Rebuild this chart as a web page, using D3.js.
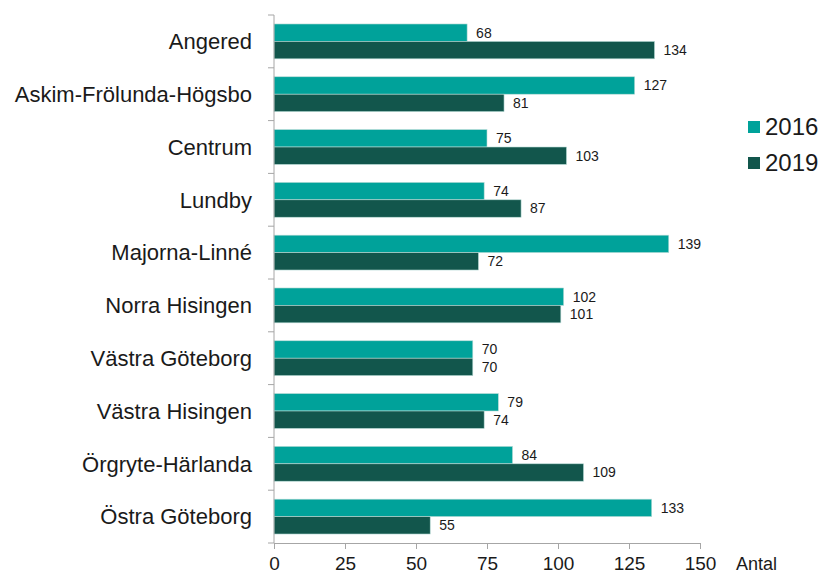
<!DOCTYPE html>
<html>
    <script src="https://d3js.org/d3.v7.min.js"></script>
    <style>
        body {margin: 0; background: #fff;}
        text {font-family: "Liberation Sans", Arial, sans-serif; fill: #1a1a1a;}
    </style>
    <body>
        <div id="chart_div"></div>
        <script>
            var districts = ["Angered", "Askim-Frölunda-Högsbo", "Centrum", "Lundby", "Majorna-Linné",
                "Norra Hisingen", "Västra Göteborg", "Västra Hisingen", "Örgryte-Härlanda", "Östra Göteborg"];
            var years = ["2016", "2019"];
            var values2016 = [68, 127, 75, 74, 139, 102, 70, 79, 84, 133];
            var values2019 = [134, 81, 103, 87, 72, 101, 70, 74, 109, 55];
            var xTicks = [0, 25, 50, 75, 100, 125, 150];
            var axisTitle = "Antal";

            var colors = {"2016": "#00a29a", "2019": "#12564c"};

            var margin = {top: 15, right: 124, bottom: 31, left: 274};
            var width = 824 - margin.left - margin.right;
            var height = 574 - margin.top - margin.bottom;

            var rows = districts.map(function(d, i) {
                return {district: d, "2016": values2016[i], "2019": values2019[i]};
            });

            var svg = d3.select("#chart_div").append("svg")
                .attr("width", 824)
                .attr("height", 574)
                .append("g")
                .attr("transform", "translate(" + margin.left + "," + margin.top + ")");

            var x = d3.scaleLinear().domain([0, 150]).range([0, width]);
            var y0 = d3.scaleBand().domain(districts).range([0, height]).paddingInner(0.34).paddingOuter(0.17);
            var y1 = d3.scaleBand().domain(years).range([0, y0.bandwidth()]);

            // bars
            var groups = svg.selectAll(".grp")
                .data(rows)
                .enter().append("g")
                .attr("transform", function(d) { return "translate(0," + y0(d.district) + ")"; });

            groups.selectAll("rect")
                .data(function(d) { return years.map(function(k) { return {year: k, value: d[k]}; }); })
                .enter().append("rect")
                .attr("x", 0)
                .attr("y", function(d) { return y1(d.year); })
                .attr("width", function(d) { return x(d.value); })
                .attr("height", y1.bandwidth())
                .attr("fill", function(d) { return colors[d.year]; })
                .attr("stroke", "#b9dcd8")
                .attr("stroke-width", 0.6);

            groups.selectAll(".val")
                .data(function(d) { return years.map(function(k) { return {year: k, value: d[k]}; }); })
                .enter().append("text")
                .attr("x", function(d) { return x(d.value) + 9; })
                .attr("y", function(d) { return y1(d.year) + y1.bandwidth() / 2; })
                .attr("dy", "0.35em")
                .attr("font-size", 14)
                .text(function(d) { return d.value; });

            // x axis
            var xAxis = svg.append("g")
                .attr("transform", "translate(0," + height + ")")
                .call(d3.axisBottom(x).tickValues(xTicks).tickSize(6).tickPadding(8));
            xAxis.selectAll("text").attr("font-size", 19).attr("font-family", null);
            xAxis.selectAll("path, line").attr("stroke", "#a6a6a6");

            svg.append("text")
                .attr("x", width + 36)
                .attr("y", height + 27)
                .attr("font-size", 18)
                .text(axisTitle);

            // y axis (category separators)
            var bandStep = y0.step();
            svg.append("line")
                .attr("x1", 0).attr("x2", 0)
                .attr("y1", 0).attr("y2", height)
                .attr("stroke", "#a6a6a6");
            svg.selectAll(".ytick")
                .data(d3.range(districts.length + 1))
                .enter().append("line")
                .attr("x1", -6).attr("x2", 0)
                .attr("y1", function(i) { return i * bandStep; })
                .attr("y2", function(i) { return i * bandStep; })
                .attr("stroke", "#a6a6a6");

            svg.selectAll(".ylab")
                .data(districts)
                .enter().append("text")
                .attr("x", -22)
                .attr("y", function(d) { return y0(d) + y0.bandwidth() / 2; })
                .attr("dy", "0.35em")
                .attr("text-anchor", "end")
                .attr("font-size", 22)
                .text(function(d) { return d; });

            // legend
            var legend = svg.append("g")
                .attr("transform", "translate(" + (width + 48) + ",100)");
            years.forEach(function(k, i) {
                legend.append("rect")
                    .attr("x", 0).attr("y", i * 36 + 6)
                    .attr("width", 12).attr("height", 12)
                    .attr("fill", colors[k]);
                legend.append("text")
                    .attr("x", 17).attr("y", i * 36 + 12)
                    .attr("dy", "0.35em")
                    .attr("font-size", 24)
                    .text(k);
            });
        </script>
    </body>
</html>
